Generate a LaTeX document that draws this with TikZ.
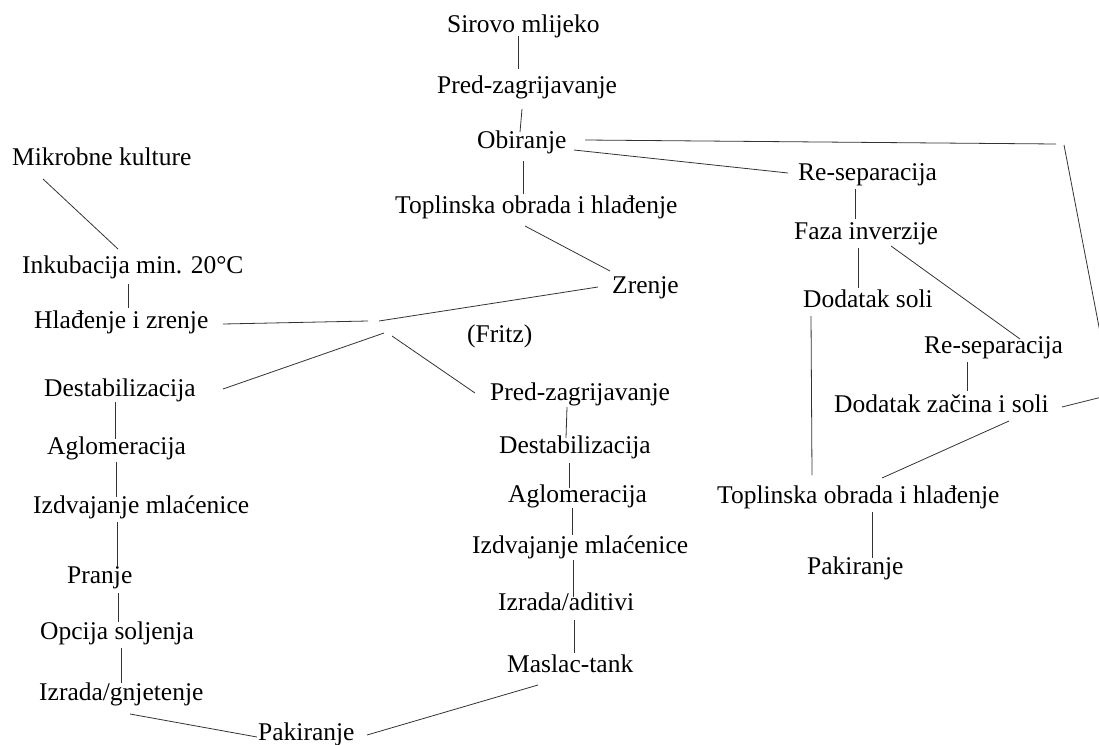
\documentclass[tikz,border=0pt]{standalone}
\usepackage{fontspec}
\setmainfont{Liberation Serif}
\begin{document}
\begin{tikzpicture}[x=1pt,y=-1pt,
  lbl/.style={inner sep=0pt, anchor=base west, font=\fontsize{25.5}{30}\selectfont},
  conn/.style={draw=black!80, line width=0.8pt}]
\useasboundingbox (0,0) rectangle (1099,744);
\clip (0,0) rectangle (1099,744);
% nodes
\node[lbl] (sir)  at (447,32)  {Sirovo mlijeko};
\node[lbl] (pz1)  at (437,93)  {Pred-zagrijavanje};
\node[lbl] (obi)  at (477,148) {Obiranje};
\node[lbl] (top1) at (395,213) {Toplinska obrada i hlađenje};
\node[lbl] (zre)  at (612,293) {Zrenje};
\node[lbl] (mik)  at (12,165)  {Mikrobne kulture};
\node[lbl] (ink)  at (22,273)  {Inkubacija min. 20°C};
\node[lbl] (hla)  at (34,328)  {Hlađenje i zrenje};
\node[lbl] (fri)  at (467,342) {(Fritz)};
\node[lbl] (des1) at (44,396)  {Destabilizacija};
\node[lbl] (agl1) at (47,454)  {Aglomeracija};
\node[lbl] (izd1) at (33,513)  {Izdvajanje mlaćenice};
\node[lbl] (pra)  at (67,583)  {Pranje};
\node[lbl] (opc)  at (40,639)  {Opcija soljenja};
\node[lbl] (izg)  at (39,700)  {Izrada/gnjetenje};
\node[lbl] (pak1) at (258,740) {Pakiranje};
\node[lbl] (pz2)  at (490,400) {Pred-zagrijavanje};
\node[lbl] (des2) at (499,453) {Destabilizacija};
\node[lbl] (agl2) at (508,502) {Aglomeracija};
\node[lbl] (izd2) at (472,553) {Izdvajanje mlaćenice};
\node[lbl] (izr)  at (498,610) {Izrada/aditivi};
\node[lbl] (mas)  at (507,672) {Maslac-tank};
\node[lbl] (res1) at (798,180) {Re-separacija};
\node[lbl] (faz)  at (794,239) {Faza inverzije};
\node[lbl] (dso)  at (803,307) {Dodatak soli};
\node[lbl] (res2) at (924,353) {Re-separacija};
\node[lbl] (dzs)  at (834,412) {Dodatak začina i soli};
\node[lbl] (top2) at (717,503) {Toplinska obrada i hlađenje};
\node[lbl] (pak2) at (807,574) {Pakiranje};
% helper coordinates
\coordinate (J) at (379,321);
\coordinate (c1) at (1056,144);
\coordinate (c2) at (1064,145);
\coordinate (c3) at (1112,394.5);
% connectors
\draw[conn] ([shift={(71,4)}]sir.base west) -- ([shift={(81,-24)}]pz1.base west);
\draw[conn] ([shift={(85,16)}]pz1.base west) -- ([shift={(43,-16)}]obi.base west);
\draw[conn] ([shift={(46,13)}]obi.base west) -- ([shift={(128,-19)}]top1.base west);
\draw[conn] ([shift={(130,13)}]top1.base west) -- ([shift={(-2,-22)}]zre.base west);
\draw[conn] ([shift={(-14,-6)}]zre.base west) -- (J);
\draw[conn] ([shift={(189,-4)}]hla.base west) -- ([shift={(-11,0)}]J);
\draw[conn] ([shift={(5,12)}]J) -- ([shift={(179,-7)}]des1.base west);
\draw[conn] ([shift={(13,15)}]J) -- ([shift={(-15,-7)}]pz2.base west);
\draw[conn] ([shift={(97,2)}]obi.base west) -- ([shift={(-10,-7)}]res1.base west);
\draw[conn] ([shift={(108,-8)}]obi.base west) -- (c1) (c2) -- (c3) -- ([shift={(228,-5)}]dzs.base west);
\draw[conn] ([shift={(57,9)}]res1.base west) -- ([shift={(61,-20)}]faz.base west);
\draw[conn] ([shift={(64,9)}]faz.base west) -- ([shift={(55,-19)}]dso.base west);
\draw[conn] ([shift={(97,7)}]faz.base west) -- ([shift={(96,-14)}]res2.base west);
\draw[conn] ([shift={(8,9)}]dso.base west) -- ([shift={(95,-28)}]top2.base west);
\draw[conn] ([shift={(43,9)}]res2.base west) -- ([shift={(133,-21)}]dzs.base west);
\draw[conn] ([shift={(175,9)}]dzs.base west) -- ([shift={(165,-25)}]top2.base west);
\draw[conn] ([shift={(155,9)}]top2.base west) -- ([shift={(65,-16)}]pak2.base west);
\draw[conn] ([shift={(31,14)}]mik.base west) -- ([shift={(96,-24)}]ink.base west);
\draw[conn] ([shift={(106,11)}]ink.base west) -- ([shift={(94,-20)}]hla.base west);
\draw[conn] ([shift={(71,6)}]des1.base west) -- ([shift={(68,-15)}]agl1.base west);
\draw[conn] ([shift={(69,8)}]agl1.base west) -- ([shift={(83,-16)}]izd1.base west);
\draw[conn] ([shift={(84,9)}]izd1.base west) -- ([shift={(50,-16)}]pra.base west);
\draw[conn] ([shift={(51,10)}]pra.base west) -- ([shift={(78,-17)}]opc.base west);
\draw[conn] ([shift={(81,9)}]opc.base west) -- ([shift={(82,-17)}]izg.base west);
\draw[conn] ([shift={(91,14)}]izg.base west) -- ([shift={(-1,-3)}]pak1.base west);
\draw[conn] ([shift={(31,13)}]mas.base west) -- ([shift={(109,-5)}]pak1.base west);
\draw[conn] ([shift={(77,7)}]pz2.base west) -- ([shift={(67,-15)}]des2.base west);
\draw[conn] ([shift={(70,10)}]des2.base west) -- ([shift={(61,-14)}]agl2.base west);
\draw[conn] ([shift={(64,6)}]agl2.base west) -- ([shift={(100,-18)}]izd2.base west);
\draw[conn] ([shift={(101,7)}]izd2.base west) -- ([shift={(75,-13)}]izr.base west);
\draw[conn] ([shift={(76,10)}]izr.base west) -- ([shift={(67,-19)}]mas.base west);
\end{tikzpicture}
\end{document}
